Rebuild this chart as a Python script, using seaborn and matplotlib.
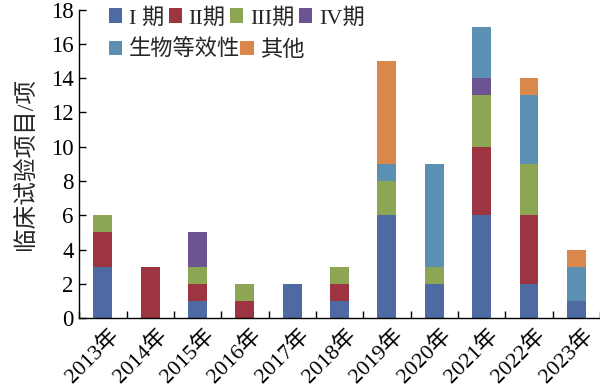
import matplotlib
matplotlib.use("Agg")
import matplotlib.pyplot as plt
import matplotlib.transforms as mtransforms
import seaborn as sns
import numpy as np
import pandas as pd
from matplotlib.patches import Patch

years = ["2013年", "2014年", "2015年", "2016年", "2017年", "2018年",
         "2019年", "2020年", "2021年", "2022年", "2023年"]
series_names = ["I 期", "II期", "III期", "IV期", "生物等效性", "其他"]
phase1 = [3, 0, 1, 0, 2, 1, 6, 2, 6, 2, 1]
phase2 = [2, 3, 1, 1, 0, 1, 0, 0, 4, 4, 0]
phase3 = [1, 0, 1, 1, 0, 1, 2, 1, 3, 3, 0]
phase4 = [0, 0, 2, 0, 0, 0, 0, 0, 1, 0, 0]
bioeq = [0, 0, 0, 0, 0, 0, 1, 6, 3, 4, 2]
other = [0, 0, 0, 0, 0, 0, 6, 0, 0, 1, 1]
colors = ["#4E6AA3", "#9C3541", "#8CA653", "#6B5491", "#5C90B2", "#D9874A"]

sns.set_theme(style="ticks")
plt.rcParams['font.family'] = ['Liberation Serif', 'Noto Sans CJK SC', 'DejaVu Sans']
plt.rcParams['axes.unicode_minus'] = False

fig = plt.figure(figsize=(6.0, 3.87), dpi=100)
ax = fig.add_axes([0.132, 0.178, 0.868, 0.797])

all_series = [phase1, phase2, phase3, phase4, bioeq, other]
bottom = np.zeros(len(years))
for vals, c in zip(all_series, colors):
    df = pd.DataFrame({"year": years, "v": vals})
    sns.barplot(data=df, x="year", y="v", color=c, width=0.4, bottom=bottom,
                errorbar=None, saturation=1, ax=ax, linewidth=0)
    bottom = bottom + np.array(vals)

ax.set_xlim(-0.5, 10.5)
ax.set_ylim(0, 18)
ax.set_yticks(range(0, 19, 2))
ax.set_xlabel("")
ax.set_ylabel("临床试验项目/项", fontsize=17, labelpad=10)
for s in ["top", "right"]:
    ax.spines[s].set_visible(False)
for s in ["left", "bottom"]:
    ax.spines[s].set_color("black")
    ax.spines[s].set_linewidth(1.0)

ax.tick_params(axis="y", direction="in", length=5, width=1, labelsize=16.5, pad=4, colors="black")
ax.tick_params(axis="x", which="major", length=0, labelsize=16, pad=5, colors="black")
ax.set_xticks(np.arange(-0.5, 11, 1), minor=True)
ax.tick_params(axis="x", which="minor", direction="in", length=5, width=1, colors="black")
offset = mtransforms.ScaledTranslation(6 / 100, 0, fig.dpi_scale_trans)
for lbl in ax.get_xticklabels():
    lbl.set_rotation(45)
    lbl.set_ha("right")
    lbl.set_rotation_mode("anchor")
    lbl.set_transform(lbl.get_transform() + offset)

h = [Patch(facecolor=c, edgecolor="none") for c in colors]
leg1 = ax.legend(h[:4], series_names[:4], ncol=4, loc="upper left",
                 bbox_to_anchor=(0.04, 1.035), frameon=False, fontsize=16,
                 handlelength=0.6, handleheight=0.6, handletextpad=0.3,
                 columnspacing=0.2, borderaxespad=0)
ax.add_artist(leg1)
ax.legend(h[4:], series_names[4:], ncol=2, loc="upper left",
          bbox_to_anchor=(0.04, 0.93), frameon=False, fontsize=16,
          handlelength=0.6, handleheight=0.6, handletextpad=0.3,
          columnspacing=0.0, borderaxespad=0)

fig.savefig("out.png", dpi=100)
